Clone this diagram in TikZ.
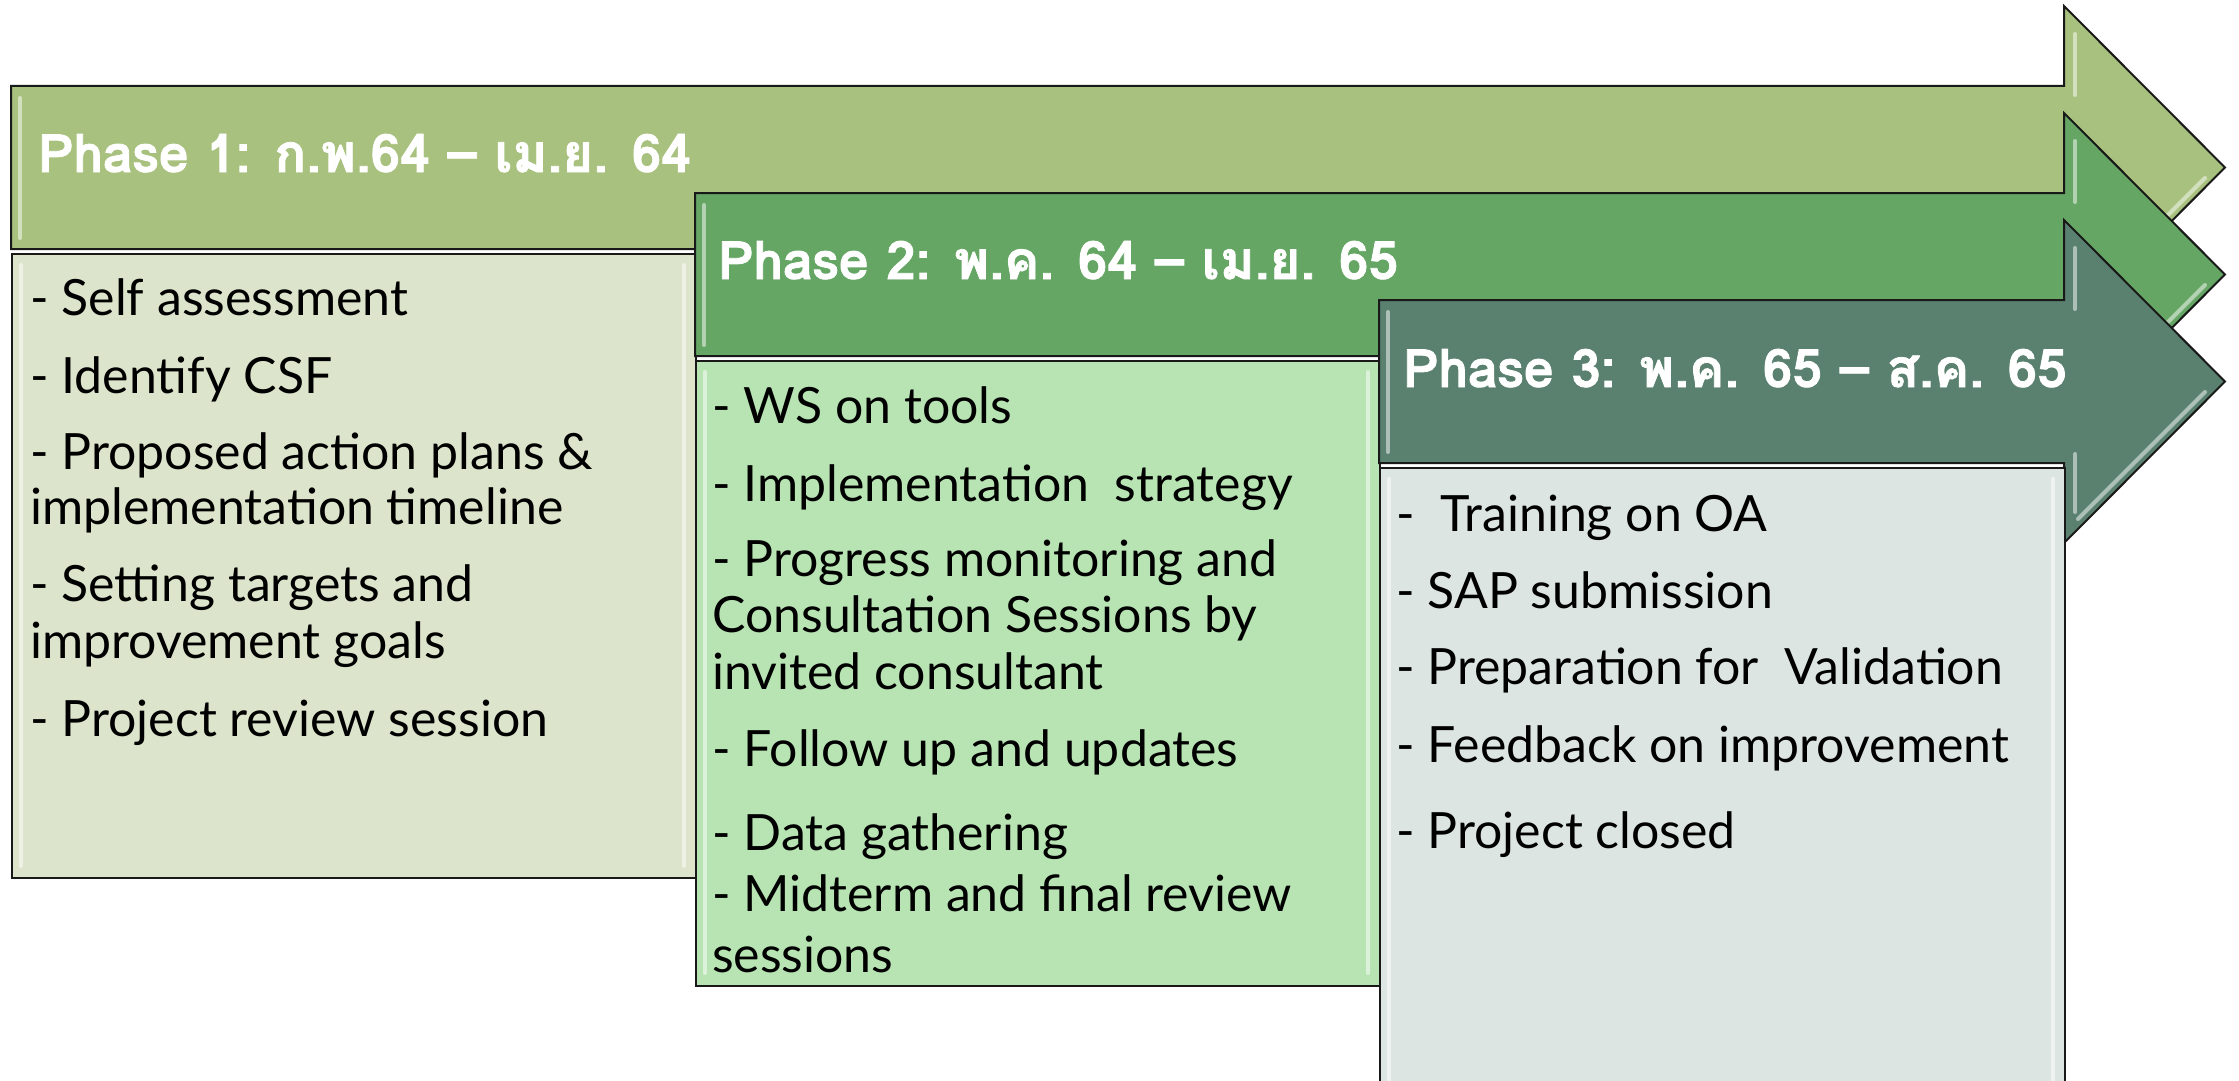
\documentclass[tikz,border=0pt]{standalone}
\usepackage{fontspec}
\setmainfont{Lato}
\newfontfamily\headfont[Script=Thai,BoldFeatures={FakeBold=1.5}]{Loma}
\definecolor{pa1}{RGB}{168,193,126}
\definecolor{pb1}{RGB}{220,229,203}
\definecolor{pa2}{RGB}{101,166,101}
\definecolor{pb2}{RGB}{184,228,180}
\definecolor{pa3}{RGB}{90,129,111}
\definecolor{pb3}{RGB}{221,229,226}
\begin{document}
\begin{tikzpicture}[x=1pt,y=-1pt,
  arrowbody/.style={draw=black!90,line width=2pt,line join=miter},
  boxbody/.style={draw=black!90,line width=2pt,inner sep=0pt,anchor=north west},
  hl/.style={draw=white,draw opacity=.5,line width=4pt,line cap=round},
  headtext/.style={anchor=base west,inner sep=0pt,text=white,font=\headfont\bfseries\fontsize{53}{56}\selectfont},
  bodytext/.style={anchor=base west,inner sep=0pt,font=\fontsize{50}{56}\selectfont}]
\useasboundingbox (0,0) rectangle (2239,1081);
% Phase 1
\draw[arrowbody,fill=pa1] (11,86) -- (2064,86) -- (2064,6) -- (2225,167.5) -- (2064,329) -- (2064,249) -- (11,249) -- cycle;
\draw[hl] (20,98) -- (20,238);
\draw[hl] (2075,34) -- (2075,95);
\draw[hl] (2078,305) -- (2205,178);
\node[boxbody,fill=pb1,minimum width=684pt,minimum height=624pt] (box1) at (11,253) {};
\draw[hl] (21,265) -- (21,866);
\draw[hl] (684,265) -- (684,866);
% Phase 2
\draw[arrowbody,fill=pa2] (695,193) -- (2064,193) -- (2064,113) -- (2225,274.5) -- (2064,436) -- (2064,356) -- (695,356) -- cycle;
\draw[hl] (704,205) -- (704,345);
\draw[hl] (2075,141) -- (2075,202);
\draw[hl] (2075,347) -- (2075,405);
\draw[hl] (2078,412) -- (2205,285);
\node[boxbody,fill=pb2,minimum width=684pt,minimum height=625pt] (box2) at (695,360) {};
\draw[hl] (705,372) -- (705,973);
\draw[hl] (1368,372) -- (1368,973);
% Phase 3
\draw[arrowbody,fill=pa3] (1379,300) -- (2064,300) -- (2064,220) -- (2225,381.5) -- (2064,543) -- (2064,463) -- (1379,463) -- cycle;
\draw[hl] (1388,312) -- (1388,452);
\draw[hl] (2075,248) -- (2075,309);
\draw[hl] (2075,454) -- (2075,512);
\draw[hl] (2078,519) -- (2205,392);
\node[boxbody,fill=pb3,minimum width=685pt,minimum height=640pt] (box3) at (1379,467) {};
\draw[hl] (1389,479) -- (1389,1081);
\draw[hl] (2053,479) -- (2053,1081);
% headers
\node[headtext] (h1) at (38,172) {Phase 1: ก.พ.64 – เม.ย. 64};
\node[headtext] (h2) at (718,279) {Phase 2: พ.ค. 64 – เม.ย. 65};
\node[headtext] (h3) at (1403,387) {Phase 3: พ.ค. 65 – ส.ค. 65};
% body phase 1
\node[bodytext] (a1) at (30,315) {- Self assessment};
\node[bodytext] (a2) at (30,393) {- Identify CSF};
\node[bodytext] (a3) at (30,469) {- Proposed action plans \&};
\node[bodytext] (a4) at (30,524) {implementation timeline};
\node[bodytext] (a5) at (30,601) {- Setting targets and};
\node[bodytext] (a6) at (30,658) {improvement goals};
\node[bodytext] (a7) at (30,736) {- Project review session};
% body phase 2
\node[bodytext] (b1) at (712,423) {- WS on tools};
\node[bodytext] (b2) at (712,501) {- Implementation\ \ strategy};
\node[bodytext] (b3) at (712,576) {- Progress monitoring and};
\node[bodytext] (b4) at (712,632) {Consultation Sessions by};
\node[bodytext] (b5) at (712,689) {invited consultant};
\node[bodytext] (b6) at (712,766) {- Follow up and updates};
\node[bodytext] (b7) at (712,850) {- Data gathering};
\node[bodytext] (b8) at (712,911) {- Midterm and final review};
\node[bodytext] (b9) at (712,972) {sessions};
% body phase 3
\node[bodytext] (c1) at (1396,531) {-\ \ Training on OA};
\node[bodytext] (c2) at (1396,608) {- SAP submission};
\node[bodytext] (c3) at (1396,684) {- Preparation for\ \ Validation};
\node[bodytext] (c4) at (1396,762) {- Feedback on improvement};
\node[bodytext] (c5) at (1396,848) {- Project closed};
\end{tikzpicture}
\end{document}
